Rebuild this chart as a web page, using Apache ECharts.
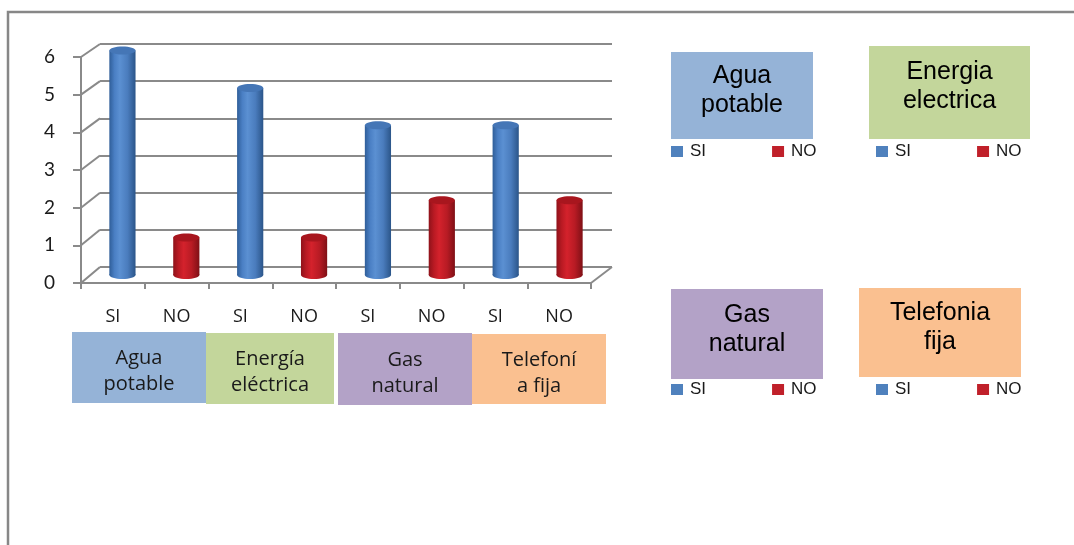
<!DOCTYPE html>
<html>
<head>
<meta charset="utf-8">
<script src="https://cdn.jsdelivr.net/npm/echarts@6/dist/echarts.min.js"></script>
<style>html,body{margin:0;padding:0;background:#fff;}#c{width:1074px;height:545px;}</style>
</head>
<body>
<div id="c"></div>
<script>
// ---- data ----
const xLabels = ['SI','NO','SI','NO','SI','NO','SI','NO'];
const siValues = [6, 5, 4, 4];
const noValues = [1, 1, 2, 2];
const groupLabels = ['Agua\npotable', 'Energía\neléctrica', 'Gas\nnatural', 'Telefoní\na fija'];
const panelTitles = ['Agua\npotable', 'Energia\nelectrica', 'Gas\nnatural', 'Telefonia\nfija'];
const seriesNames = ['SI', 'NO'];
const yMax = 6;

// ---- layout ----
const FRONT = {left: 81, top: 57, width: 510, height: 226};
const BACK  = {left: 100, top: 44, width: 512, height: 223};
const MID   = {left: 90.5, top: 50.5, width: 511, height: 224.5};
const GRID_COLOR = '#8a8a8a';
const groupBoxes = [
  {x: 72, y: 332, w: 134, h: 71, color: '#95b3d7'},
  {x: 206, y: 333, w: 128, h: 71, color: '#c3d69b'},
  {x: 338, y: 333, w: 134, h: 72, color: '#b3a2c7'},
  {x: 472, y: 334, w: 134, h: 70, color: '#fac090'}
];
const panels = [
  {x: 671, y: 52, w: 142, h: 87, color: '#95b3d7', legendTop: 143, dy: -4.5},
  {x: 869, y: 46, w: 161, h: 93, color: '#c3d69b', legendTop: 143, dy: -6},
  {x: 671, y: 289, w: 152, h: 90, color: '#b3a2c7', legendTop: 381, dy: -4},
  {x: 859, y: 288, w: 162, h: 89, color: '#fac090', legendTop: 381, dy: -4.5}
];
const legendLeft = [671, 876, 671, 876];

const siData = siValues.map((v, i) => [i * 2, v]);
const noData = noValues.map((v, i) => [i * 2 + 1, v]);

const palettes = {
  SI: {stops: ['#2f5e99', '#4a7fc4', '#5b90d2', '#4a7cbd', '#2b5589'], cap: '#4576b6', legend: '#4f81bd'},
  NO: {stops: ['#8f121a', '#b91a23', '#d4222c', '#b81b24', '#7f1016'], cap: '#a8161e', legend: '#c0202a'}
};

function cylinder(pal) {
  return function (params, api) {
    const x = api.value(0), v = api.value(1);
    const top = api.coord([x, v]);
    const base = api.coord([x, 0]);
    const w = api.size([1, 0])[0] * 0.41;
    const rx = w / 2, ry = 4;
    const cx = top[0];
    const grad = {type: 'linear', x: 0, y: 0, x2: 1, y2: 0, colorStops: [
      {offset: 0, color: pal.stops[0]}, {offset: 0.2, color: pal.stops[1]},
      {offset: 0.4, color: pal.stops[2]}, {offset: 0.7, color: pal.stops[3]},
      {offset: 1, color: pal.stops[4]}]};
    return {type: 'group', children: [
      {type: 'ellipse', shape: {cx: cx, cy: base[1], rx: rx, ry: ry}, style: {fill: grad}},
      {type: 'rect', shape: {x: cx - rx, y: top[1], width: w, height: base[1] - top[1]}, style: {fill: grad}},
      {type: 'ellipse', shape: {cx: cx, cy: top[1], rx: rx, ry: ry}, style: {fill: pal.cap}}
    ]};
  };
}

const chart = echarts.init(document.getElementById('c'));

const baseGraphics = [];
// outer frame
baseGraphics.push({type: 'polyline', silent: true, shape: {points: [[8, 545], [8, 12], [1074, 12]]},
  style: {stroke: '#878787', lineWidth: 2.5, fill: null}});
// group boxes under the axis
groupBoxes.forEach((b, i) => {
  baseGraphics.push({type: 'rect', shape: {x: b.x, y: b.y, width: b.w, height: b.h}, style: {fill: b.color}});
  baseGraphics.push({type: 'text', x: b.x + b.w / 2, y: b.y + b.h / 2 + 4,
    style: {text: groupLabels[i], fill: '#1a1a1a', font: '20px "Open Sans"', align: 'center', verticalAlign: 'middle', lineHeight: 26}});
});
// right panels
panels.forEach((p, i) => {
  baseGraphics.push({type: 'rect', shape: {x: p.x, y: p.y, width: p.w, height: p.h}, style: {fill: p.color}});
  baseGraphics.push({type: 'text', x: p.x + p.w / 2, y: p.y + p.h / 2 + p.dy,
    style: {text: panelTitles[i], fill: '#000', font: '25px "Liberation Sans"', align: 'center', verticalAlign: 'middle', lineHeight: 29}});
});

const legends = panels.map((p, i) => ({
  data: seriesNames, left: legendLeft[i], top: p.legendTop, padding: 0,
  orient: 'horizontal', itemGap: 66, itemWidth: 12, itemHeight: 11, icon: 'rect',
  selectedMode: false,
  textStyle: {fontFamily: 'Liberation Sans', fontSize: 17, color: '#1a1a1a', padding: [0, 0, 0, 2]}
}));

chart.setOption({
  animation: false,
  backgroundColor: '#fff',
  grid: [
    Object.assign({containLabel: false}, BACK),
    Object.assign({containLabel: false}, FRONT),
    Object.assign({containLabel: false}, MID)
  ],
  xAxis: [
    {gridIndex: 0, type: 'category', data: xLabels, show: false},
    {gridIndex: 1, type: 'category', data: xLabels,
      axisLine: {show: true, lineStyle: {color: GRID_COLOR, width: 2}},
      axisTick: {show: true, length: 6, lineStyle: {color: GRID_COLOR, width: 2}},
      axisLabel: {margin: 25, fontFamily: 'Open Sans', fontSize: 18, color: '#1a1a1a'}},
    {gridIndex: 2, type: 'category', data: xLabels, show: false}
  ],
  yAxis: [
    {gridIndex: 0, type: 'value', min: 0, max: yMax, interval: 1,
      axisLine: {show: false}, axisTick: {show: false}, axisLabel: {show: false},
      splitLine: {show: true, lineStyle: {color: GRID_COLOR, width: 2}}},
    {gridIndex: 1, type: 'value', min: 0, max: yMax, interval: 1,
      axisLine: {show: true, lineStyle: {color: GRID_COLOR, width: 2}},
      axisTick: {show: true, length: 8, lineStyle: {color: GRID_COLOR, width: 2}},
      splitLine: {show: false},
      axisLabel: {margin: 26, fontFamily: 'Lato', fontSize: 19, color: '#1a1a1a'}},
    {gridIndex: 2, type: 'value', min: 0, max: yMax, interval: 1, show: false, splitLine: {show: false}}
  ],
  legend: legends,
  series: [
    {name: 'SI', type: 'custom', xAxisIndex: 2, yAxisIndex: 2, data: siData,
      itemStyle: {color: palettes.SI.legend}, renderItem: cylinder(palettes.SI)},
    {name: 'NO', type: 'custom', xAxisIndex: 2, yAxisIndex: 2, data: noData,
      itemStyle: {color: palettes.NO.legend}, renderItem: cylinder(palettes.NO)}
  ],
  graphic: baseGraphics
});

// 3D connectors between front axis and back wall, derived from axis scales
const conn = [];
for (let v = 0; v <= yMax; v++) {
  const yF = chart.convertToPixel({yAxisIndex: 1}, v);
  const yB = chart.convertToPixel({yAxisIndex: 0}, v);
  conn.push({type: 'line', silent: true, shape: {x1: FRONT.left, y1: yF, x2: BACK.left, y2: yB},
    style: {stroke: GRID_COLOR, lineWidth: 2}});
}
const y0F = chart.convertToPixel({yAxisIndex: 1}, 0);
const y0B = chart.convertToPixel({yAxisIndex: 0}, 0);
conn.push({type: 'line', silent: true,
  shape: {x1: FRONT.left + FRONT.width, y1: y0F, x2: BACK.left + BACK.width, y2: y0B},
  style: {stroke: GRID_COLOR, lineWidth: 2}});
chart.setOption({graphic: baseGraphics.concat(conn)});
</script>
</body>
</html>
